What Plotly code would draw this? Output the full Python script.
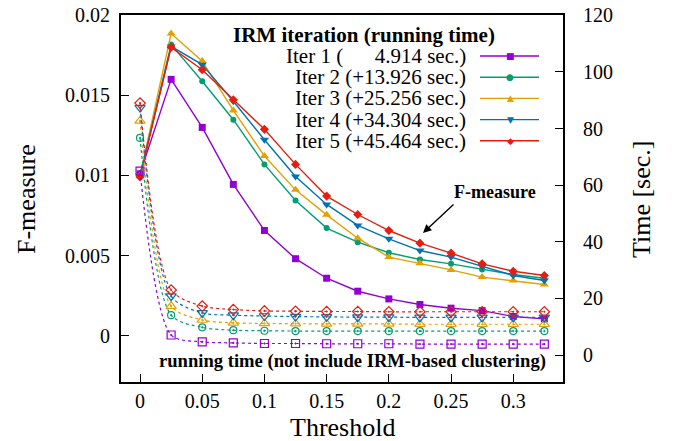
import plotly.graph_objects as go

thresholds = [0, 0.025, 0.05, 0.075, 0.1, 0.125, 0.15, 0.175, 0.2, 0.225, 0.25, 0.275, 0.3, 0.325]

labels = ["Iter 1 (\u2007\u2007\u20074.914 sec.)", "Iter 2 (+13.926 sec.)", "Iter 3 (+25.256 sec.)",
          "Iter 4 (+34.304 sec.)", "Iter 5 (+45.464 sec.)"]

fm_iter1 = [0.0101, 0.0160, 0.0130, 0.00944, 0.00656, 0.0048, 0.00358, 0.00277, 0.00229, 0.00194, 0.00171, 0.00156, 0.00119, 0.00104]
fm_iter2 = [0.0100, 0.01817, 0.01588, 0.01348, 0.01069, 0.00844, 0.00671, 0.00583, 0.00517, 0.00475, 0.00448, 0.00413, 0.00381, 0.00358]
fm_iter3 = [0.0100, 0.01886, 0.01714, 0.01406, 0.01121, 0.0091, 0.00754, 0.00608, 0.0049, 0.00452, 0.0041, 0.00365, 0.00344, 0.00319]
fm_iter4 = [0.0100, 0.01806, 0.01692, 0.01463, 0.01223, 0.00994, 0.00819, 0.00688, 0.00604, 0.00531, 0.0049, 0.00431, 0.00375, 0.00344]
fm_iter5 = [0.0099, 0.0180, 0.0166, 0.01473, 0.01288, 0.01069, 0.00871, 0.00756, 0.00656, 0.00577, 0.00515, 0.00448, 0.00402, 0.00375]

time_iter1 = [65.0, 7.1, 4.7, 4.3, 4.1, 4.1, 4.0, 4.0, 4.0, 3.9, 3.9, 3.9, 3.9, 3.9]
time_iter2 = [76.7, 14.1, 9.8, 8.8, 8.6, 8.5, 8.5, 8.5, 8.5, 8.5, 8.5, 8.5, 8.5, 8.5]
time_iter3 = [82.7, 17.3, 12.4, 11.4, 11.2, 11.1, 11.0, 11.0, 11.0, 10.9, 10.9, 10.9, 10.9, 10.9]
time_iter4 = [87.4, 20.8, 14.9, 14.1, 13.8, 13.6, 13.5, 13.4, 13.4, 13.3, 13.3, 13.3, 13.3, 13.3]
time_iter5 = [89.0, 23.0, 17.3, 16.1, 15.6, 15.5, 15.4, 15.4, 15.3, 15.3, 15.3, 15.3, 15.3, 15.3]

x_ticks = [0, 0.05, 0.1, 0.15, 0.2, 0.25, 0.3]
x_ticktext = ["0", "0.05", "0.1", "0.15", "0.2", "0.25", "0.3"]
y_ticks = [0, 0.005, 0.01, 0.015, 0.02]
y_ticktext = ["0", "0.005", "0.01", "0.015", "0.02"]
y2_ticks = [0, 20, 40, 60, 80, 100, 120]

fm_series = [fm_iter1, fm_iter2, fm_iter3, fm_iter4, fm_iter5]
time_series = [time_iter1, time_iter2, time_iter3, time_iter4, time_iter5]
colors = ["#9400d3", "#009e73", "#e69f00", "#0072b2", "#e51e10"]
symbols = ["square", "circle", "triangle-up", "triangle-down", "diamond"]
glyphs = ["\u25a0", "\u25cf", "\u25b2", "\u25bc", "\u25c6"]
msizes = [7, 6, 8, 8, 7]

FONT = "Liberation Serif, Times New Roman, Times, DejaVu Serif, serif"

# page offset (default body margin) compensation
OFF = 8
W, H = 681 - OFF, 441 - OFF
L, R, T, B = 121 - OFF, 563 - OFF, 15 - OFF, 382 - OFF
PW, PH = R - L, B - T


def px(x):
    return (x - OFF - L) / PW


def py(y):
    return 1.0 - (y - OFF - T) / PH


fig = go.Figure()

for i in range(5):
    fig.add_trace(go.Scatter(
        x=thresholds, y=time_series[i], yaxis="y2", mode="lines+markers",
        line=dict(color=colors[i], width=1.2, dash="3px,3px", shape="spline", smoothing=0.8),
        marker=dict(symbol=symbols[i] + "-open-dot", size=msizes[i] + 1, color=colors[i],
                    line=dict(width=1.2, color=colors[i])),
        showlegend=False, cliponaxis=False))

for i in range(5):
    fig.add_trace(go.Scatter(
        x=thresholds, y=fm_series[i], mode="lines+markers",
        line=dict(color=colors[i], width=1.4),
        marker=dict(symbol=symbols[i], size=msizes[i], color=colors[i]),
        name=labels[i], showlegend=False, cliponaxis=False))

axis_common = dict(showgrid=False, zeroline=False, ticks="inside", ticklen=8, tickwidth=1,
                   tickcolor="black", showline=True, linecolor="black", linewidth=2,
                   automargin=False, ticklabeloverflow="allow",
                   tickfont=dict(family=FONT, size=20, color="black"))

fig.update_layout(
    width=W, height=H,
    margin=dict(l=L, r=W - R, t=T, b=H - B, autoexpand=False),
    paper_bgcolor="white", plot_bgcolor="white",
    font=dict(family=FONT, color="black"),
    xaxis=dict(range=[-0.0153, 0.340], tickvals=x_ticks, ticktext=x_ticktext, mirror=True,
               **axis_common),
    yaxis=dict(range=[-0.0029, 0.02002], tickvals=y_ticks, ticktext=y_ticktext, mirror=True,
               ticklabelstandoff=5, **axis_common),
    yaxis2=dict(range=[-9.5, 120.1], tickvals=y2_ticks, overlaying="y", side="right",
                ticklabelstandoff=14, **axis_common),
)

ann = []
# axis titles
ann.append(dict(xref="paper", yref="paper", x=px(342), y=py(427), xanchor="center", yanchor="middle",
                text="Threshold", showarrow=False, font=dict(family=FONT, size=26, color="black")))
ann.append(dict(xref="paper", yref="paper", x=px(26), y=py(199), xanchor="center", yanchor="middle",
                text="F-measure", textangle=-90, showarrow=False, font=dict(family=FONT, size=26, color="black")))
ann.append(dict(xref="paper", yref="paper", x=px(641), y=py(200), xanchor="center", yanchor="middle",
                text="Time [sec.]", textangle=-90, showarrow=False, font=dict(family=FONT, size=26, color="black")))

# legend, gnuplot style
ann.append(dict(xref="paper", yref="paper", x=px(364), y=py(35), xanchor="center", yanchor="middle",
                text="<b>IRM iteration (running time)</b>", showarrow=False,
                font=dict(family=FONT, size=21, color="black")))
shapes = []
for i in range(5):
    yc = 56 + i * 21.2
    ann.append(dict(xref="paper", yref="paper", x=px(468), y=py(yc), xanchor="right", yanchor="middle",
                    text=labels[i], showarrow=False, font=dict(family=FONT, size=21, color="black")))
    shapes.append(dict(type="line", xref="paper", yref="paper", x0=px(480), x1=px(539),
                       y0=py(yc), y1=py(yc), line=dict(color=colors[i], width=1.4)))
    ann.append(dict(xref="paper", yref="paper", x=px(510), y=py(yc), xanchor="center", yanchor="middle",
                    text=glyphs[i], showarrow=False,
                    font=dict(family="DejaVu Sans", size=9, color=colors[i])))

ann.append(dict(xref="paper", yref="paper", x=px(538), y=py(192),
                xanchor="right", yanchor="middle", text="<b>F-measure</b>", showarrow=False,
                font=dict(family=FONT, size=18, color="black")))
ann.append(dict(xref="paper", yref="paper", x=px(423), y=py(233),
                ax=32, ay=-30, axref="pixel", ayref="pixel",
                text="", showarrow=True, arrowhead=2, arrowsize=1.2, arrowwidth=1.4, arrowcolor="black"))
ann.append(dict(xref="paper", yref="paper", x=px(548), y=py(361),
                xanchor="right", yanchor="middle",
                text="<b>running time (not include IRM-based clustering)</b>", showarrow=False,
                font=dict(family=FONT, size=18.6, color="black")))

fig.update_layout(annotations=ann, shapes=shapes)
fig.write_html("out.html")
